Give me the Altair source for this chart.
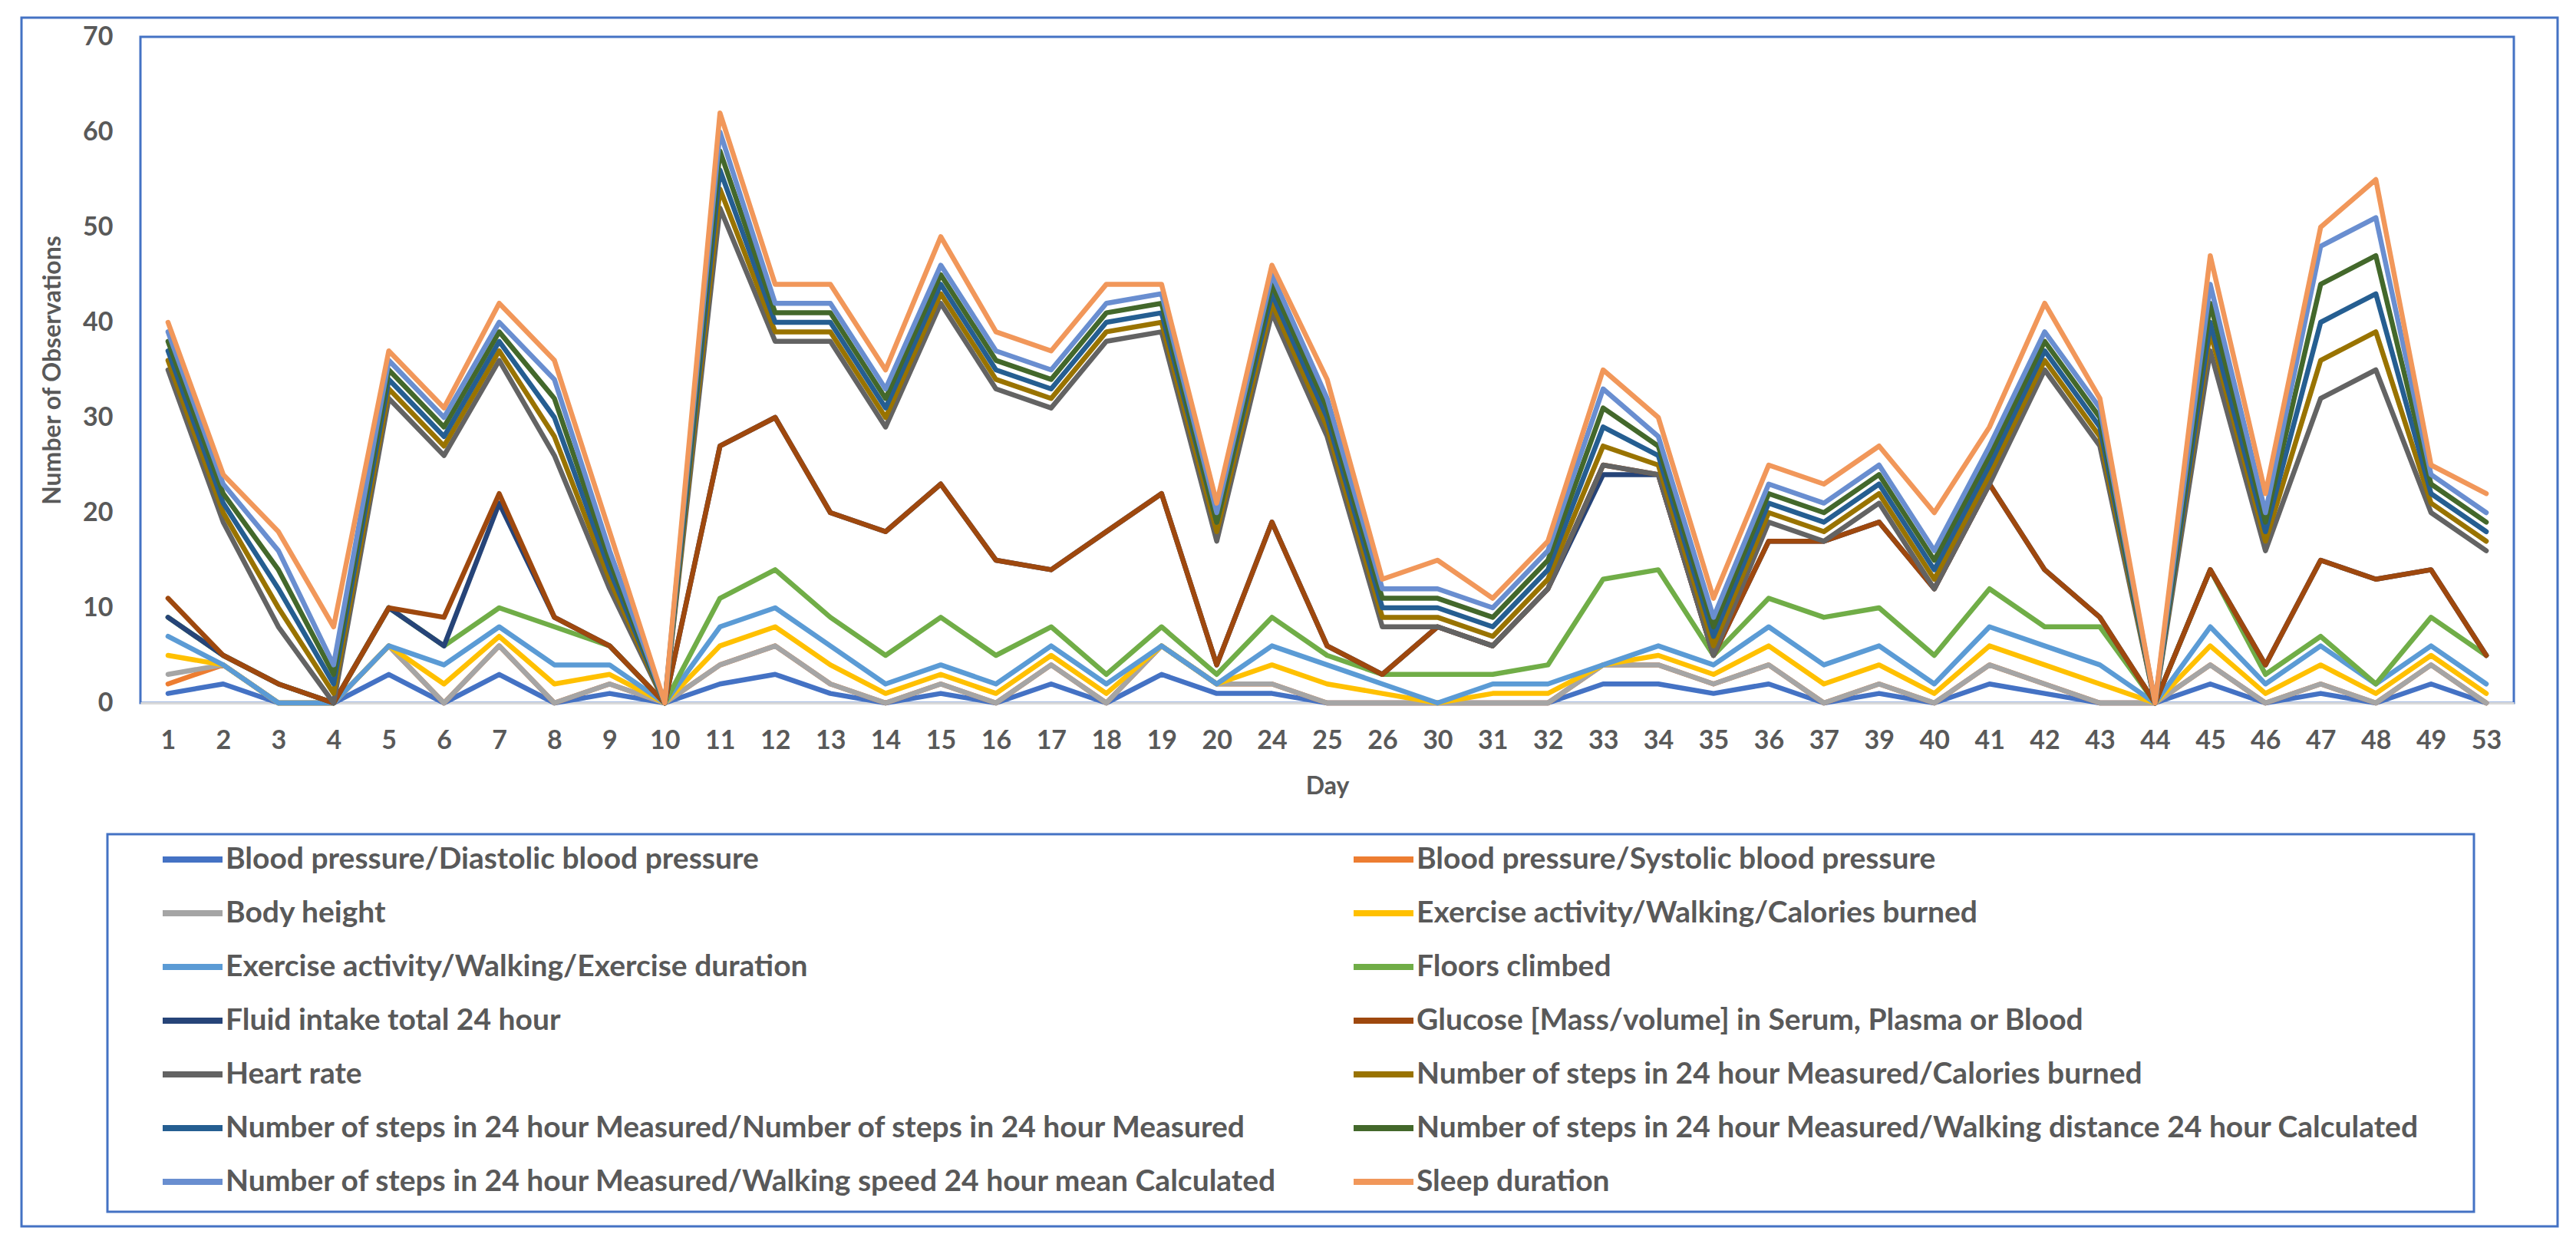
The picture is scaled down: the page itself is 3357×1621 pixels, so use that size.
import altair as alt
import pandas as pd

days = ["1", "2", "3", "4", "5", "6", "7", "8", "9", "10", "11", "12", "13", "14", "15",
        "16", "17", "18", "19", "20", "24", "25", "26", "30", "31", "32", "33", "34", "35",
        "36", "37", "39", "40", "41", "42", "43", "44", "45", "46", "47", "48", "49", "53"]

series_names = [
    "Blood pressure/Diastolic blood pressure",
    "Blood pressure/Systolic blood pressure",
    "Body height",
    "Exercise activity/Walking/Calories burned",
    "Exercise activity/Walking/Exercise duration",
    "Floors climbed",
    "Fluid intake total 24 hour",
    "Glucose [Mass/volume] in Serum, Plasma or Blood",
    "Heart rate",
    "Number of steps in 24 hour Measured/Calories burned",
    "Number of steps in 24 hour Measured/Number of steps in 24 hour Measured",
    "Number of steps in 24 hour Measured/Walking distance 24 hour Calculated",
    "Number of steps in 24 hour Measured/Walking speed 24 hour mean Calculated",
    "Sleep duration",
]

colors = ["#4472C4", "#ED7D31", "#A5A5A5", "#FFC000", "#5B9BD5", "#70AD47", "#264478",
          "#9E480E", "#636363", "#997300", "#255E91", "#43682B", "#698ED0", "#F1975A"]

# plotted (stacked line) values, one list per series
diastolic = [1, 2, 0, 0, 3, 0, 3, 0, 1, 0, 2, 3, 1, 0, 1, 0, 2, 0, 3, 1, 1, 0, 0, 0, 0, 0, 2, 2, 1,
             2, 0, 1, 0, 2, 1, 0, 0, 2, 0, 1, 0, 2, 0]
systolic = [2, 4, 0, 0, 6, 0, 6, 0, 2, 0, 4, 6, 2, 0, 2, 0, 4, 0, 6, 2, 2, 0, 0, 0, 0, 0, 4, 4, 2,
            4, 0, 2, 0, 4, 2, 0, 0, 4, 0, 2, 0, 4, 0]
body_height = [3, 4, 0, 0, 6, 0, 6, 0, 2, 0, 4, 6, 2, 0, 2, 0, 4, 0, 6, 2, 2, 0, 0, 0, 0, 0, 4, 4, 2,
               4, 0, 2, 0, 4, 2, 0, 0, 4, 0, 2, 0, 4, 0]
ex_calories = [5, 4, 0, 0, 6, 2, 7, 2, 3, 0, 6, 8, 4, 1, 3, 1, 5, 1, 6, 2, 4, 2, 1, 0, 1, 1, 4, 5, 3,
               6, 2, 4, 1, 6, 4, 2, 0, 6, 1, 4, 1, 5, 1]
ex_duration = [7, 4, 0, 0, 6, 4, 8, 4, 4, 0, 8, 10, 6, 2, 4, 2, 6, 2, 6, 2, 6, 4, 2, 0, 2, 2, 4, 6, 4,
               8, 4, 6, 2, 8, 6, 4, 0, 8, 2, 6, 2, 6, 2]
floors = [9, 5, 2, 0, 10, 6, 10, 8, 6, 0, 11, 14, 9, 5, 9, 5, 8, 3, 8, 3, 9, 5, 3, 3, 3, 4, 13, 14, 5,
          11, 9, 10, 5, 12, 8, 8, 0, 14, 3, 7, 2, 9, 5]
fluid = [9, 5, 2, 0, 10, 6, 21, 9, 6, 0, 27, 30, 20, 18, 23, 15, 14, 18, 22, 4, 19, 6, 3, 8, 6, 12, 24,
         24, 5, 17, 17, 19, 12, 23, 14, 9, 0, 14, 4, 15, 13, 14, 5]
glucose = [11, 5, 2, 0, 10, 9, 22, 9, 6, 0, 27, 30, 20, 18, 23, 15, 14, 18, 22, 4, 19, 6, 3, 8, 6, 12,
           25, 24, 5, 17, 17, 19, 12, 23, 14, 9, 0, 14, 4, 15, 13, 14, 5]
heart_rate = [35, 19, 8, 0, 32, 26, 36, 26, 12, 0, 52, 38, 38, 29, 42, 33, 31, 38, 39, 17, 41, 28, 8, 8,
              6, 12, 25, 24, 5, 19, 17, 21, 12, 23, 35, 27, 0, 37, 16, 32, 35, 20, 16]
steps_calories = [36, 20, 10, 1, 33, 27, 37, 28, 13, 0, 54, 39, 39, 30, 43, 34, 32, 39, 40, 18, 42, 29, 9,
                  9, 7, 13, 27, 25, 6, 20, 18, 22, 13, 24, 36, 28, 0, 39, 17, 36, 39, 21, 17]
steps_number = [37, 21, 12, 2, 34, 28, 38, 30, 14, 0, 56, 40, 40, 31, 44, 35, 33, 40, 41, 19, 43, 30, 10,
                10, 8, 14, 29, 26, 7, 21, 19, 23, 14, 25, 37, 29, 0, 40, 18, 40, 43, 22, 18]
steps_distance = [38, 22, 14, 3, 35, 29, 39, 32, 15, 0, 58, 41, 41, 32, 45, 36, 34, 41, 42, 19, 44, 31, 11,
                  11, 9, 15, 31, 27, 8, 22, 20, 24, 15, 26, 38, 30, 0, 42, 19, 44, 47, 23, 19]
steps_speed = [39, 23, 16, 4, 36, 30, 40, 34, 16, 0, 60, 42, 42, 33, 46, 37, 35, 42, 43, 20, 45, 32, 12,
               12, 10, 16, 33, 28, 9, 23, 21, 25, 16, 27, 39, 31, 0, 44, 20, 48, 51, 24, 20]
sleep = [40, 24, 18, 8, 37, 31, 42, 36, 18, 0, 62, 44, 44, 35, 49, 39, 37, 44, 44, 21, 46, 34, 13, 15,
         11, 17, 35, 30, 11, 25, 23, 27, 20, 29, 42, 32, 0, 47, 22, 50, 55, 25, 22]

all_values = [diastolic, systolic, body_height, ex_calories, ex_duration, floors, fluid, glucose,
              heart_rate, steps_calories, steps_number, steps_distance, steps_speed, sleep]

rows = []
for idx, (name, vals) in enumerate(zip(series_names, all_values)):
    for d, v in zip(days, vals):
        rows.append({"Day": d, "Series": name, "Observations": v, "idx": idx})
df = pd.DataFrame(rows)

TEXT = "#595959"
BLUE = "#4472C4"
FONT = "Lato"

lines = alt.Chart(df).mark_line(strokeWidth=6.5, strokeJoin="round", strokeCap="round").encode(
    x=alt.X("Day:O", sort=days, scale=alt.Scale(type="point", padding=0.5),
            axis=alt.Axis(title="Day", labelAngle=0, ticks=False, grid=False,
                          domainColor="#D9D9D9", domainWidth=3,
                          labelFont=FONT, labelFontSize=34, labelFontWeight="bold",
                          labelColor=TEXT, labelPadding=32,
                          titleFont=FONT, titleFontSize=32, titleFontWeight="bold",
                          titleColor=TEXT, titlePadding=27)),
    y=alt.Y("Observations:Q", scale=alt.Scale(domain=[0, 70], nice=False),
            axis=alt.Axis(title="Number of Observations", values=[0, 10, 20, 30, 40, 50, 60, 70],
                          domain=False, ticks=False, grid=False, labelFlush=False,
                          labelFont=FONT, labelFontSize=34, labelFontWeight="bold",
                          labelColor=TEXT, labelPadding=36,
                          titleFont=FONT, titleFontSize=32, titleFontWeight="bold",
                          titleColor=TEXT, titlePadding=22)),
    color=alt.Color("Series:N", sort=series_names,
                    scale=alt.Scale(domain=series_names, range=colors),
                    legend=alt.Legend(title=None, orient="none", legendX=9, legendY=1052,
                                      columns=2, direction="horizontal",
                                      symbolType="M0,0H5", symbolSize=973,
                                      symbolStrokeWidth=8, labelFont=FONT, labelFontSize=39,
                                      labelFontWeight="bold", labelColor=TEXT, labelOffset=62,
                                      rowPadding=30, columnPadding=78, labelLimit=3000,
                                      padding=0)),
    order=alt.Order("idx:Q"),
)

frame_df = pd.DataFrame({"a": [0]})
outer = alt.Chart(frame_df).mark_rect(filled=False, stroke=BLUE, strokeWidth=3).encode(
    x=alt.value(-155), x2=alt.value(3150), y=alt.value(-25), y2=alt.value(1550))
legend_box = alt.Chart(frame_df).mark_rect(filled=False, stroke=BLUE, strokeWidth=3).encode(
    x=alt.value(-43), x2=alt.value(3041), y=alt.value(1039), y2=alt.value(1531))

chart = alt.layer(outer, legend_box, lines).properties(
    width=3093, height=868,
    autosize=alt.AutoSizeParams(type="none"),
    padding={"left": 175, "top": 40, "right": 73, "bottom": 690},
    background="white",
).configure_view(stroke=BLUE, strokeWidth=3)

chart.save("out.html", embed_options={"renderer": "svg", "actions": False})
